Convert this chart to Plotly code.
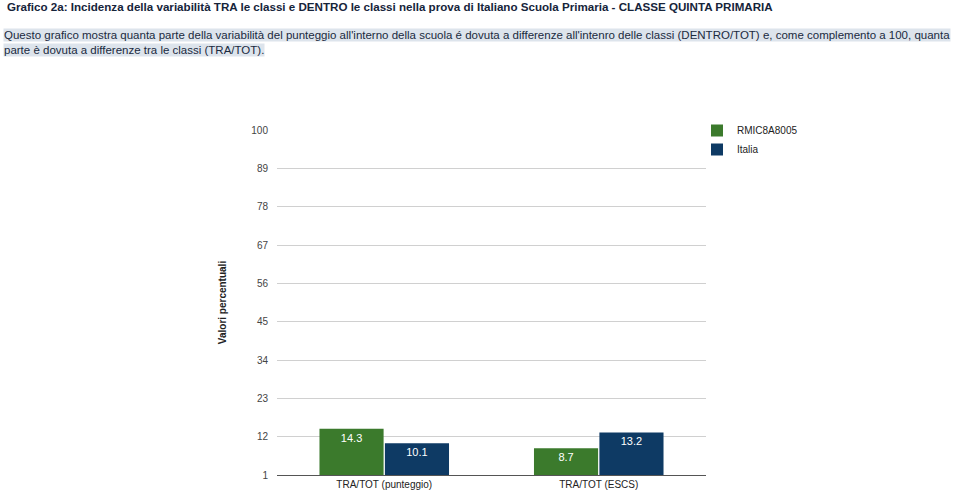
import plotly.graph_objects as go

categories = ["TRA/TOT (punteggio)", "TRA/TOT (ESCS)"]
series_names = ["RMIC8A8005", "Italia"]
school_values = [14.3, 8.7]
italy_values = [10.1, 13.2]
tick_values = [1, 12, 23, 34, 45, 56, 67, 78, 89, 100]

title_text = ("Grafico 2a: Incidenza della variabilità TRA le classi e DENTRO le classi "
              "nella prova di Italiano Scuola Primaria - CLASSE QUINTA PRIMARIA")
para_line1 = ("Questo grafico mostra quanta parte della variabilità del punteggio all'interno "
              "della scuola é dovuta a differenze all'intenro delle classi (DENTRO/TOT) e, "
              "come complemento a 100, quanta")
para_line2 = "parte è dovuta a differenze tra le classi (TRA/TOT)."

W, H = 960, 493
green = "#3b7a2c"
blue = "#0e3a64"

fig = go.Figure()
for name, vals, col in [(series_names[0], school_values, green), (series_names[1], italy_values, blue)]:
    fig.add_trace(go.Bar(
        x=categories, y=vals, name=name, marker=dict(color=col, line=dict(width=0)),
        text=[f"{v:.1f}" for v in vals], textposition="inside", insidetextanchor="end",
        textfont=dict(color="white", size=11, family="Liberation Sans, Arial"),
        textangle=0,
    ))

fig.update_layout(
    width=W, height=H, margin=dict(l=0, r=0, t=0, b=0),
    paper_bgcolor="white", plot_bgcolor="white",
    barmode="group", bargap=0.39, bargroupgap=0.02,
    font=dict(family="Liberation Sans, Arial", size=10, color="#222"),
    xaxis=dict(domain=[277 / W, 706 / W], showgrid=False, showline=True, automargin=False,
               linecolor="#555", linewidth=1, ticks="",
               tickfont=dict(size=10, color="#222")),
    yaxis=dict(domain=[1 - 475 / H, 1 - 130 / H], range=[1, 100], tickvals=tick_values,
               automargin=False,
               showgrid=True, gridcolor="#d0d0d0", zeroline=False, ticks="",
               ticklabelstandoff=8, tickfont=dict(size=10, color="#444"),
               title=dict(text="<b>Valori percentuali</b>", font=dict(size=10, color="#222"), standoff=22)),
    legend=dict(x=697 / W, y=1 - 116 / H, xanchor="left", yanchor="top",
                font=dict(size=10, color="#222"), bgcolor="rgba(0,0,0,0)",
                tracegroupgap=0, itemsizing="constant"),
    showlegend=True,
)

fig.add_annotation(text="<b>" + title_text + "</b>", xref="paper", yref="paper",
                   x=5 / W, y=1 + 2 / H, xanchor="left", yanchor="top", showarrow=False,
                   font=dict(size=11.6, color="#16243a", family="Liberation Sans, Arial"))
fig.add_annotation(text=para_line1, xref="paper", yref="paper",
                   x=3 / W, y=1 - 28 / H, xanchor="left", yanchor="top", showarrow=False,
                   bgcolor="#dde4ec", borderpad=0,
                   font=dict(size=11.5, color="#1a2a40", family="Liberation Sans, Arial"))
fig.add_annotation(text=para_line2, xref="paper", yref="paper",
                   x=3 / W, y=1 - 43 / H, xanchor="left", yanchor="top", showarrow=False,
                   bgcolor="#dde4ec", borderpad=0,
                   font=dict(size=11.5, color="#1a2a40", family="Liberation Sans, Arial"))

fig.write_html("out.html")
